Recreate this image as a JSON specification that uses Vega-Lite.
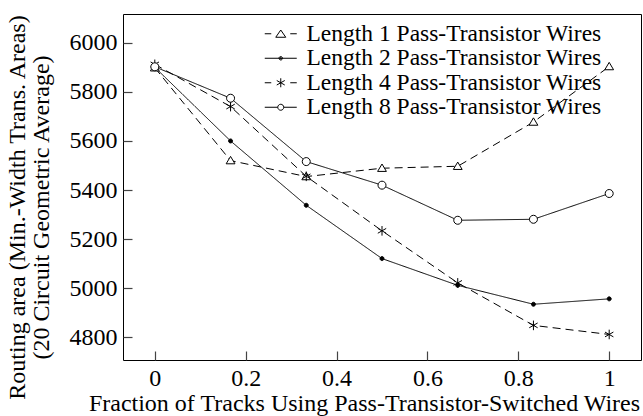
{
  "$schema": "https://vega.github.io/schema/vega-lite/v6.json",
  "width": 518,
  "height": 346,
  "autosize": "none",
  "padding": {"left": 123, "top": 14, "right": 2, "bottom": 56},
  "background": "white",
  "config": {
    "font": "Liberation Serif",
    "view": {"stroke": "black", "strokeWidth": 1},
    "axis": {
      "grid": false,
      "domain": false,
      "tickColor": "#444",
      "tickWidth": 1.2,
      "tickSize": -9,
      "labelPadding": 15,
      "labelFont": "Liberation Serif",
      "labelFontSize": 24,
      "labelColor": "black",
      "titleFont": "Liberation Serif",
      "titleFontSize": 24,
      "titleFontWeight": "normal",
      "titleColor": "black"
    }
  },
  "data": {
    "values": [
      {"series": "Length 1 Pass-Transistor Wires", "fraction": 0, "area": 5898},
      {"series": "Length 1 Pass-Transistor Wires", "fraction": 0.1667, "area": 5520},
      {"series": "Length 1 Pass-Transistor Wires", "fraction": 0.3333, "area": 5455},
      {"series": "Length 1 Pass-Transistor Wires", "fraction": 0.5, "area": 5489},
      {"series": "Length 1 Pass-Transistor Wires", "fraction": 0.6667, "area": 5497},
      {"series": "Length 1 Pass-Transistor Wires", "fraction": 0.8333, "area": 5677},
      {"series": "Length 1 Pass-Transistor Wires", "fraction": 1, "area": 5903},
      {"series": "Length 2 Pass-Transistor Wires", "fraction": 0, "area": 5900},
      {"series": "Length 2 Pass-Transistor Wires", "fraction": 0.1667, "area": 5600},
      {"series": "Length 2 Pass-Transistor Wires", "fraction": 0.3333, "area": 5338},
      {"series": "Length 2 Pass-Transistor Wires", "fraction": 0.5, "area": 5121},
      {"series": "Length 2 Pass-Transistor Wires", "fraction": 0.6667, "area": 5012},
      {"series": "Length 2 Pass-Transistor Wires", "fraction": 0.8333, "area": 4935},
      {"series": "Length 2 Pass-Transistor Wires", "fraction": 1, "area": 4957},
      {"series": "Length 4 Pass-Transistor Wires", "fraction": 0, "area": 5912},
      {"series": "Length 4 Pass-Transistor Wires", "fraction": 0.1667, "area": 5740},
      {"series": "Length 4 Pass-Transistor Wires", "fraction": 0.3333, "area": 5456},
      {"series": "Length 4 Pass-Transistor Wires", "fraction": 0.5, "area": 5234},
      {"series": "Length 4 Pass-Transistor Wires", "fraction": 0.6667, "area": 5022},
      {"series": "Length 4 Pass-Transistor Wires", "fraction": 0.8333, "area": 4849},
      {"series": "Length 4 Pass-Transistor Wires", "fraction": 1, "area": 4812},
      {"series": "Length 8 Pass-Transistor Wires", "fraction": 0, "area": 5902},
      {"series": "Length 8 Pass-Transistor Wires", "fraction": 0.1667, "area": 5774},
      {"series": "Length 8 Pass-Transistor Wires", "fraction": 0.3333, "area": 5516},
      {"series": "Length 8 Pass-Transistor Wires", "fraction": 0.5, "area": 5420},
      {"series": "Length 8 Pass-Transistor Wires", "fraction": 0.6667, "area": 5277},
      {"series": "Length 8 Pass-Transistor Wires", "fraction": 0.8333, "area": 5281},
      {"series": "Length 8 Pass-Transistor Wires", "fraction": 1, "area": 5386}
    ]
  },
  "encoding": {
    "x": {
      "field": "fraction",
      "type": "quantitative",
      "scale": {"domain": [-0.07, 1.07], "nice": false, "zero": false},
      "axis": {
        "values": [0, 0.2, 0.4, 0.6, 0.8, 1],
        "format": ".1~f",
        "title": "Fraction of Tracks Using Pass-Transistor-Switched Wires",
        "titleX": 241,
        "titleY": 50,
        "titleAlign": "center",
        "titleBaseline": "alphabetic"
      }
    },
    "y": {
      "field": "area",
      "type": "quantitative",
      "scale": {"domain": [4708, 6117], "nice": false, "zero": false},
      "axis": {
        "values": [4800, 5000, 5200, 5400, 5600, 5800, 6000],
        "format": "d",
        "title": ["Routing area (Min.-Width Trans. Areas)", "(20 Circuit Geometric Average)"],
        "titleAngle": -90,
        "titleX": -106,
        "titleY": 193,
        "titleAlign": "center",
        "titleBaseline": "middle",
        "titleLineHeight": 24
      }
    }
  },
  "layer": [
    {
      "mark": {"type": "line", "color": "black", "strokeWidth": 1},
      "encoding": {
        "detail": {"field": "series"},
        "strokeDash": {
          "field": "series",
          "type": "nominal",
          "scale": {
            "domain": ["Length 1 Pass-Transistor Wires", "Length 2 Pass-Transistor Wires", "Length 4 Pass-Transistor Wires", "Length 8 Pass-Transistor Wires"],
            "range": [[8, 5], [1, 0], [8, 5], [1, 0]]
          },
          "legend": null
        }
      }
    },
    {
      "mark": {"type": "point", "filled": true, "stroke": "black", "strokeWidth": 1, "size": 64, "opacity": 1},
      "encoding": {
        "shape": {
          "field": "series",
          "type": "nominal",
          "scale": {
            "domain": ["Length 1 Pass-Transistor Wires", "Length 2 Pass-Transistor Wires", "Length 4 Pass-Transistor Wires", "Length 8 Pass-Transistor Wires"],
            "range": [
              "M-1.1,0.8L0,-1.05L1.1,0.8Z",
              "M-0.5,0A0.5,0.5 0 1,0 0.5,0A0.5,0.5 0 1,0 -0.5,0Z",
              "M0,-1.2V1.2M-1.05,-0.6L1.05,0.6M-1.05,0.6L1.05,-0.6",
              "M-1,0A1,1 0 1,0 1,0A1,1 0 1,0 -1,0Z"
            ]
          },
          "legend": null
        },
        "fill": {
          "field": "series",
          "type": "nominal",
          "scale": {
            "domain": ["Length 1 Pass-Transistor Wires", "Length 2 Pass-Transistor Wires", "Length 4 Pass-Transistor Wires", "Length 8 Pass-Transistor Wires"],
            "range": ["white", "black", "transparent", "white"]
          },
          "legend": null
        }
      }
    },
    {
      "transform": [{"filter": "datum.area < 0"}],
      "mark": {"type": "point", "filled": false, "color": "black", "strokeWidth": 1, "size": 100},
      "encoding": {
        "shape": {
          "field": "series",
          "type": "nominal",
          "scale": {
            "domain": ["Length 1 Pass-Transistor Wires", "Length 2 Pass-Transistor Wires", "Length 4 Pass-Transistor Wires", "Length 8 Pass-Transistor Wires"],
            "range": [
              "M-3.2,0H-1.9M1.9,0H3.2M-1,0.7L0,-0.75L1,0.7Z",
              "M-3.2,0H3.2M-0.35,0A0.35,0.35 0 1,0 0.35,0A0.35,0.35 0 1,0 -0.35,0ZM-0.15,0A0.15,0.15 0 1,0 0.15,0A0.15,0.15 0 1,0 -0.15,0Z",
              "M-3.2,0H-1.9M1.9,0H3.2M0,-0.9V0.9M-0.8,-0.45L0.8,0.45M-0.8,0.45L0.8,-0.45",
              "M-3.2,0H-0.6M0.6,0H3.2M-0.6,0A0.6,0.6 0 1,0 0.6,0A0.6,0.6 0 1,0 -0.6,0Z"
            ]
          },
          "legend": {
            "orient": "none",
            "legendX": 146,
            "legendY": 8,
            "title": null,
            "padding": 0,
            "labelFont": "Liberation Serif",
            "labelFontSize": 23.5,
            "labelColor": "black",
            "labelLimit": 0,
            "labelOffset": 14,
            "rowPadding": -0.5,
            "symbolSize": 100,
            "symbolStrokeWidth": 1,
            "symbolStrokeColor": "black",
            "symbolFillColor": "transparent",
            "symbolOpacity": 1
          }
        }
      }
    }
  ],
  "resolve": {"scale": {"shape": "independent", "fill": "independent"}, "legend": {"shape": "independent"}}
}
